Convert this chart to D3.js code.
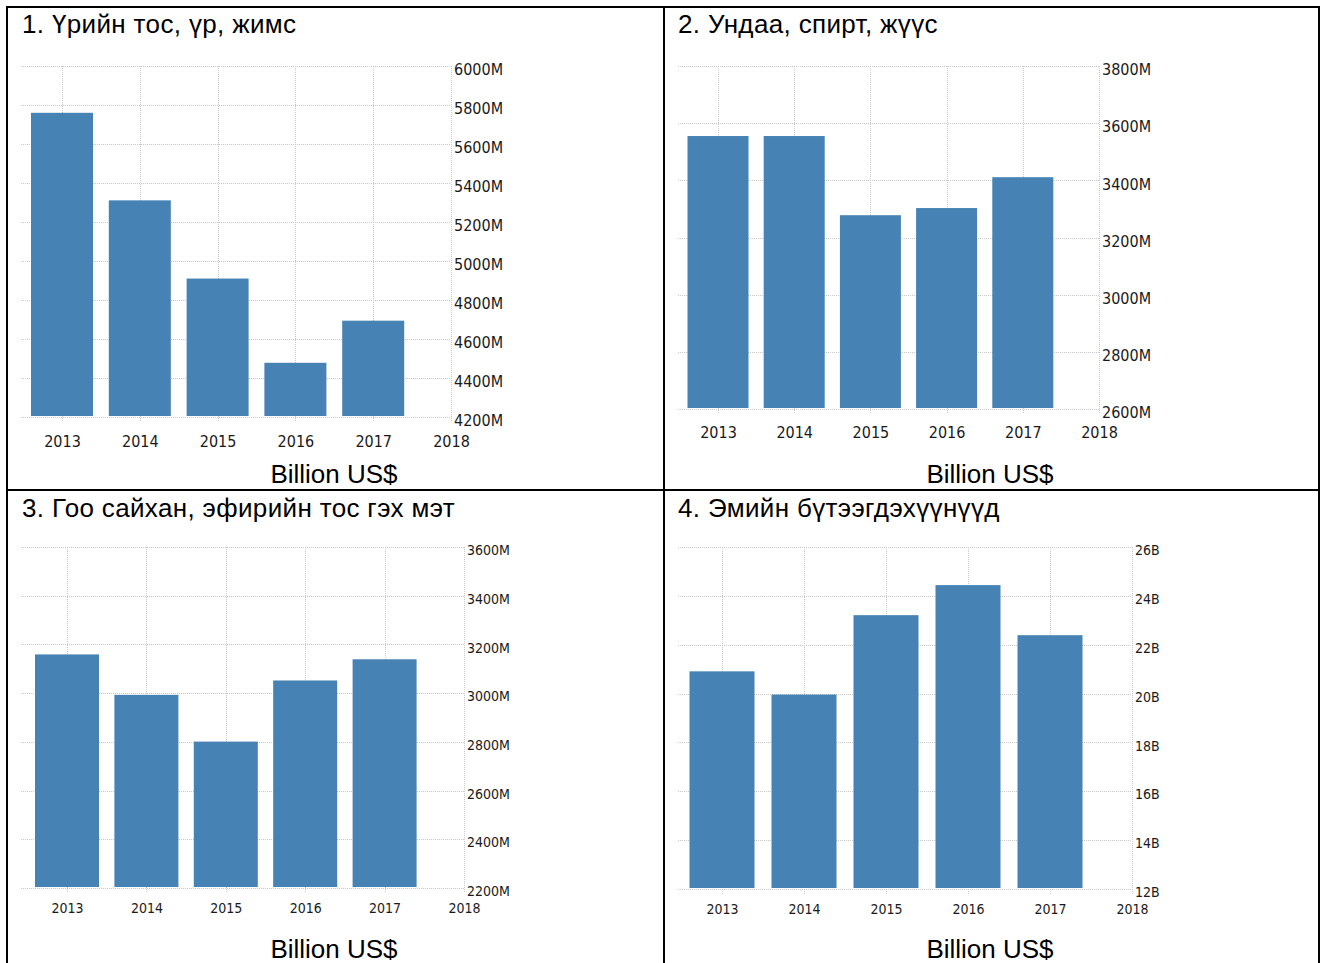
<!DOCTYPE html>
<html>
<head>
<meta charset="utf-8">
<script src="https://cdn.jsdelivr.net/npm/d3@7"></script>
<style>
  html, body { margin: 0; padding: 0; background: #fff; }
  svg { display: block; }
</style>
</head>
<body>
<svg id="chart" width="1322" height="963"></svg>
<script>
// Category years (bars) and the axis years (the last one has no bar)
const years = [2013, 2014, 2015, 2016, 2017];
const axisYears = [2013, 2014, 2015, 2016, 2017, 2018];

// Panel titles
const titles = [
  "1. Үрийн тос, үр, жимс",
  "2. Ундаа, спирт, жүүс",
  "3. Гоо сайхан, эфирийн тос гэх мэт",
  "4. Эмийн бүтээгдэхүүнүүд"
];
const unitLabel = "Billion US$";

// Series values
const oilSeedValues = [5760, 5311, 4910, 4478, 4694];      // million US$
const beverageValues = [3555, 3555, 3278, 3303, 3411];     // million US$
const cosmeticValues = [3159, 2993, 2801, 3052, 3139];     // million US$
const pharmaValues = [20.91, 19.96, 23.21, 24.44, 22.39];  // billion US$

// Y tick values
const oilSeedTicks = [4200, 4400, 4600, 4800, 5000, 5200, 5400, 5600, 5800, 6000];
const beverageTicks = [2600, 2800, 3000, 3200, 3400, 3600, 3800];
const cosmeticTicks = [2200, 2400, 2600, 2800, 3000, 3200, 3400, 3600];
const pharmaTicks = [12, 14, 16, 18, 20, 22, 24, 26];

const series = [
  { values: oilSeedValues, ticks: oilSeedTicks, suffix: "M" },
  { values: beverageValues, ticks: beverageTicks, suffix: "M" },
  { values: cosmeticValues, ticks: cosmeticTicks, suffix: "M" },
  { values: pharmaValues, ticks: pharmaTicks, suffix: "B" }
];

// Layout of each panel on the page
const layouts = [
  { titleX: 22, titleY: 33, gridLeft: 21, x0: 62, x1: 451, yTop: 66, yBottom: 417, tickFont: 16, yearFont: 16, yearY: 447, barW: 62, unitX: 334, unitY: 483 },
  { titleX: 678, titleY: 33, gridLeft: 678, x0: 718, x1: 1099, yTop: 66, yBottom: 409, tickFont: 16, yearFont: 16, yearY: 438, barW: 61, unitX: 990, unitY: 483 },
  { titleX: 22, titleY: 517, gridLeft: 21, x0: 67, x1: 464, yTop: 547, yBottom: 888, tickFont: 14, yearFont: 14, yearY: 913, barW: 64, unitX: 334, unitY: 958 },
  { titleX: 678, titleY: 517, gridLeft: 678, x0: 722, x1: 1132, yTop: 547, yBottom: 889, tickFont: 14, yearFont: 14, yearY: 914, barW: 65, unitX: 990, unitY: 958 }
];

const svg = d3.select("#chart");
const barColor = "#4682b4";
const gridColor = "#c8c8c8";
const smallFont = "'DejaVu Sans Condensed', 'DejaVu Sans', sans-serif";
const bigFont = "'Liberation Sans', Arial, sans-serif";

// Table frame
const frame = svg.append("g").attr("stroke", "#000").attr("stroke-width", 2).attr("fill", "none");
frame.append("line").attr("x1", 6).attr("x2", 1320).attr("y1", 7).attr("y2", 7);
frame.append("line").attr("x1", 7).attr("x2", 7).attr("y1", 6).attr("y2", 963);
frame.append("line").attr("x1", 1319).attr("x2", 1319).attr("y1", 6).attr("y2", 963);
frame.append("line").attr("x1", 664).attr("x2", 664).attr("y1", 6).attr("y2", 963);
frame.append("line").attr("x1", 6).attr("x2", 1320).attr("y1", 490).attr("y2", 490);

series.forEach((s, i) => {
  const L = layouts[i];
  const g = svg.append("g");

  const x = d3.scaleLinear().domain([axisYears[0], axisYears[axisYears.length - 1]]).range([L.x0, L.x1]);
  const y = d3.scaleLinear().domain(d3.extent(s.ticks)).range([L.yBottom, L.yTop]);

  // Title
  g.append("text")
    .attr("x", L.titleX).attr("y", L.titleY)
    .attr("font-family", bigFont).attr("font-size", 26)
    .attr("letter-spacing", "0.35px").attr("fill", "#000")
    .text(titles[i]);

  // Horizontal grid
  g.append("g").selectAll("line").data(s.ticks).join("line")
    .attr("x1", L.gridLeft).attr("x2", L.x1)
    .attr("y1", d => Math.round(y(d)) + 0.5).attr("y2", d => Math.round(y(d)) + 0.5)
    .attr("stroke", gridColor).attr("stroke-width", 1).attr("stroke-dasharray", "1,1");

  // Vertical grid at each year (the last one acts as the value axis line)
  g.append("g").selectAll("line").data(axisYears).join("line")
    .attr("x1", d => Math.round(x(d)) + 0.5).attr("x2", d => Math.round(x(d)) + 0.5)
    .attr("y1", L.yTop).attr("y2", L.yBottom + 5)
    .attr("stroke", gridColor).attr("stroke-width", 1).attr("stroke-dasharray", "1,1");

  // Bars
  g.append("g").selectAll("rect").data(years.map((yr, k) => ({ yr, v: s.values[k] }))).join("rect")
    .attr("x", d => x(d.yr) - L.barW / 2)
    .attr("width", L.barW)
    .attr("y", d => y(d.v))
    .attr("height", d => y.range()[0] - 1 - y(d.v))
    .attr("fill", barColor);

  // Value axis on the right
  const yAxis = d3.axisRight(y).tickValues(s.ticks).tickSize(0).tickPadding(3)
    .tickFormat(d => d + s.suffix);
  const ya = g.append("g").attr("transform", `translate(${L.x1},0)`).call(yAxis);
  ya.select(".domain").remove();
  ya.selectAll("text")
    .attr("font-family", smallFont).attr("font-size", L.tickFont).attr("fill", "#1a1a1a")
    .attr("dy", "0.55em");

  // Year axis
  const xAxis = d3.axisBottom(x).tickValues(axisYears).tickSize(0).tickPadding(0)
    .tickFormat(d3.format("d"));
  const xa = g.append("g").attr("transform", `translate(0,${L.yearY})`).call(xAxis);
  xa.select(".domain").remove();
  xa.selectAll("text")
    .attr("font-family", smallFont).attr("font-size", L.yearFont).attr("fill", "#1a1a1a")
    .attr("y", 0).attr("dy", 0);

  // Unit label
  g.append("text")
    .attr("x", L.unitX).attr("y", L.unitY)
    .attr("text-anchor", "middle")
    .attr("font-family", bigFont).attr("font-size", 26).attr("fill", "#000")
    .text(unitLabel);
});
</script>
</body>
</html>
